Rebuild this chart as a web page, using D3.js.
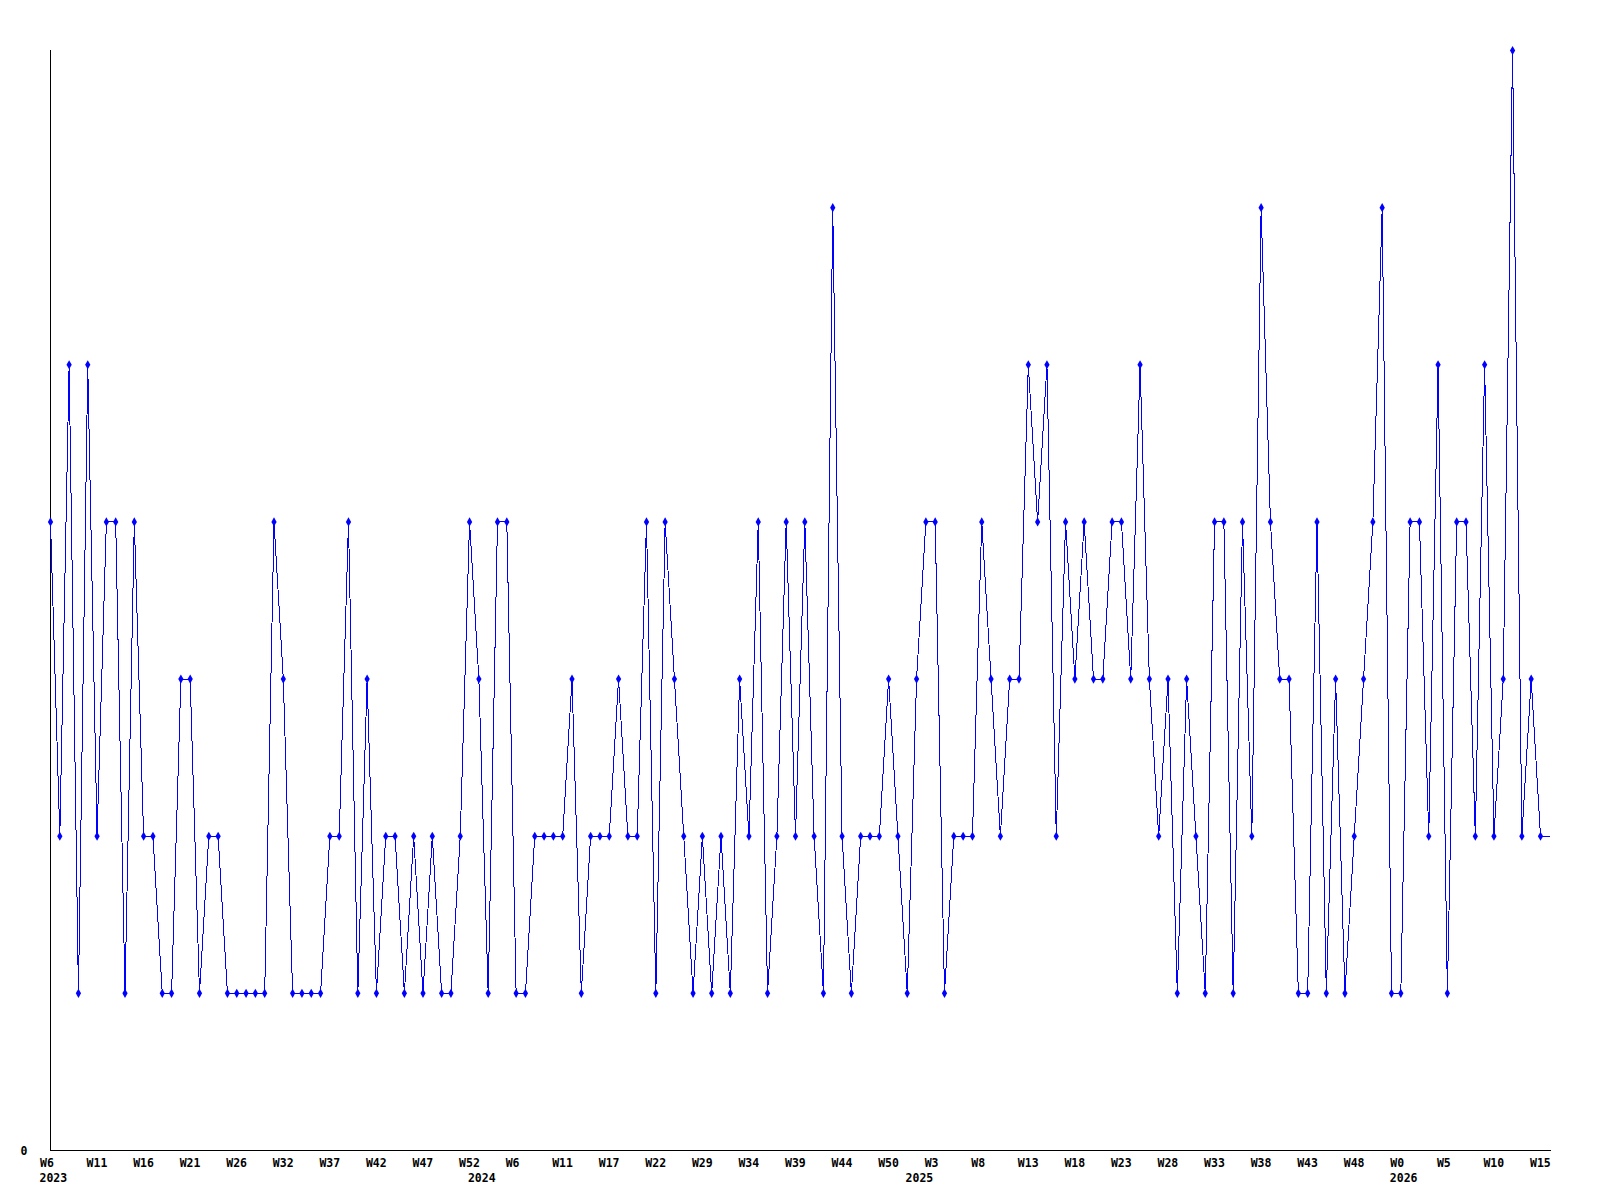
<!DOCTYPE html>
<html>
<head>
<meta charset="utf-8">
<script src="https://cdn.jsdelivr.net/npm/d3@7"></script>
<style>
  html, body { margin: 0; padding: 0; background: #fff; }
  svg text { font-family: "DejaVu Sans Mono", "Liberation Mono", monospace; font-weight: bold; font-size: 11.5px; fill: #000; }
</style>
</head>
<body>
<svg id="chart" width="1600" height="1200"></svg>
<script>
// Weekly values (index 0 = W6 2023); last value is the current, unfinished week (no marker)
const values = [
  4,2,5,1,5,2,4,4,1,4, 2,2,1,1,3,3,1,2,2,1, 1,1,1,1,4,3,1,1,1,1,
  2,2,4,1,3,1,2,2,1,2, 1,2,1,1,2,4,3,1,4,4, 1,1,2,2,2,2,3,1,2,2,
  2,3,2,2,4,1,4,3,2,1, 2,1,2,1,3,2,4,1,2,4, 2,4,2,1,6,2,1,2,2,2,
  3,2,1,3,4,4,1,2,2,2, 4,3,2,3,3,5,4,5,2,4, 3,4,3,3,4,4,3,5,3,2,
  3,1,3,2,1,4,4,1,4,2, 6,4,3,3,1,1,4,1,3,1, 2,3,4,6,1,1,4,4,2,5,
  1,4,4,2,5,2,3,7,2,3, 2,2
];
// Week tick labels, one every 5 points
const tickIndex = [0,5,10,15,20,25,30,35,40,45,50,55,60,65,70,75,80,85,90,95,100,105,110,115,120,125,130,135,140,145,150,155,160];
const tickLabels = ["W6","W11","W16","W21","W26","W32","W37","W42","W47","W52","W6","W11","W17","W22","W29","W34","W39","W44","W50","W3","W8","W13","W18","W23","W28","W33","W38","W43","W48","W0","W5","W10","W15"];
// Year labels and the point index where each year starts
const yearIndex = [0,46,93,145];
const yearLabels = ["2023","2024","2025","2026"];
const yTicks = [0];

const svg = d3.select("#chart");
const x = d3.scaleLinear().domain([0, 160]).range([50.5, 1540.5]);
const y = d3.scaleLinear().domain([0, 7]).range([1150.5, 50.5]);

// axes
const xAxis = d3.axisBottom(x)
  .tickValues(tickIndex)
  .tickSize(0)
  .tickPadding(0)
  .tickFormat((d, i) => tickLabels[i]);
const gx = svg.append("g").attr("transform", "translate(0,1150.5)").call(xAxis);
gx.select(".domain").attr("d", "M50,0H1551").attr("stroke", "#000").attr("stroke-width", 1);
gx.selectAll(".tick text")
  .attr("text-anchor", "start")
  .attr("dx", -11)
  .attr("dy", null)
  .attr("y", 16)
  .attr("fill", "#000");

const gy = svg.append("g").attr("transform", "translate(50.5,0)")
  .call(d3.axisLeft(y).tickValues(yTicks).tickSize(0).tickPadding(23).tickFormat(d3.format("d")));
gy.select(".domain").attr("d", "M0,50V1151").attr("stroke", "#000").attr("stroke-width", 1);
gy.selectAll(".tick text").attr("dy", null).attr("y", 4).attr("fill", "#000");
svg.selectAll(".tick text").style("font-family", "'DejaVu Sans Mono', monospace").style("font-size", "11.5px").style("font-weight", "bold");

// year labels
svg.append("g").selectAll("text").data(yearIndex).join("text")
  .attr("x", d => x(d) - 11)
  .attr("y", 1181.5)
  .text((d, i) => yearLabels[i]);

// line
const line = d3.line().x((d, i) => x(i)).y(d => y(d));
svg.append("path")
  .datum(values)
  .attr("fill", "none")
  .attr("stroke", "#0000ff")
  .attr("stroke-width", 1)
  .attr("shape-rendering", "crispEdges")
  .attr("d", line);

// markers (all complete weeks)
const diamond = d3.symbol().type(d3.symbolDiamond).size(24);
svg.append("g").selectAll("path")
  .data(values.slice(0, values.length - 1))
  .join("path")
  .attr("transform", (d, i) => `translate(${x(i)},${y(d)})`)
  .attr("d", diamond)
  .attr("fill", "#0000ff");
</script>
</body>
</html>
